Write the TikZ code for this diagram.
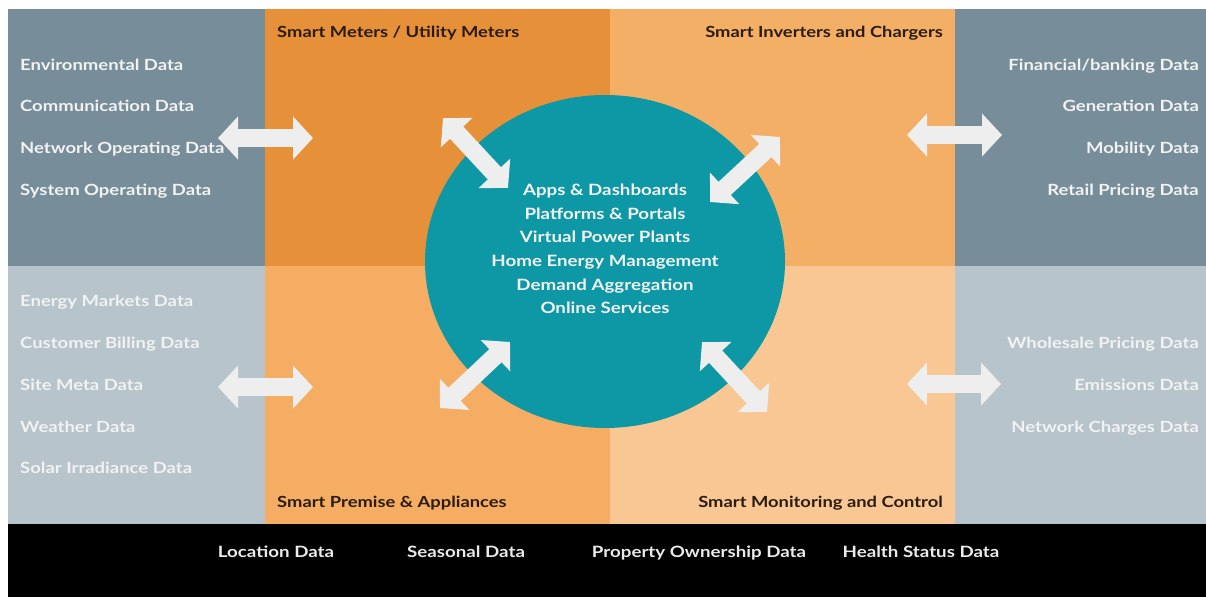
\documentclass[tikz,border=0pt]{standalone}
\usepackage{fontspec}
\setmainfont{Lato}
\newfontfamily\widefont[FakeStretch=1.2]{Lato}
\usetikzlibrary{arrows.meta,shapes.geometric}
\definecolor{slate}{HTML}{778D99}
\definecolor{mist}{HTML}{B8C4CB}
\definecolor{orangeA}{HTML}{E6913A}
\definecolor{orangeB}{HTML}{F4AF66}
\definecolor{orangeC}{HTML}{F4AD63}
\definecolor{peach}{HTML}{F8C794}
\definecolor{teal}{HTML}{0E97A4}
\definecolor{arrowgray}{HTML}{EEEEEE}
\definecolor{headink}{HTML}{2A1C10}
\definecolor{paleink}{HTML}{F2F2F2}
\begin{document}
\begin{tikzpicture}[x=1pt,y=-1pt,
  label/.style={font=\widefont\fontsize{15.4}{18}\selectfont\bfseries, text=paleink, inner sep=0pt, text height=11pt, text depth=0pt},
  lefttext/.style={label, anchor=west},
  righttext/.style={label, anchor=east},
  headtext/.style={font=\widefont\fontsize{15.3}{18}\selectfont\bfseries, text=headink, inner sep=0pt, text height=11pt, text depth=0pt},
  bandtext/.style={label, font=\widefont\fontsize{15.6}{18}\selectfont\bfseries, anchor=center, text=white!92!black},
  flow/.style={draw=arrowgray, line width=18pt, {Triangle[length=20pt,width=42pt]}-{Triangle[length=20pt,width=42pt]}}
]
\useasboundingbox (0,0) rectangle (1206,597);
\fill[white] (0,0) rectangle (1206,597);

% quadrants
\fill[slate]   (8,9)    rectangle (265,266);
\fill[mist]    (8,266)  rectangle (265,524);
\fill[orangeA] (265,9)  rectangle (610,266);
\fill[orangeB] (610,9)  rectangle (955,266);
\fill[orangeC] (265,266) rectangle (610,524);
\fill[peach]   (610,266) rectangle (955,524);
\fill[slate]   (955,9)  rectangle (1206,266);
\fill[mist]    (955,266) rectangle (1206,524);
\fill[black]   (8,524)  rectangle (1206,597);

% central hub
\node[ellipse, fill=teal, minimum width=360pt, minimum height=333pt, inner sep=0pt] (hub) at (605,261.5) {};
\node[font=\widefont\fontsize{15.6}{23.6}\selectfont\bfseries, text=paleink, align=center, inner sep=0pt] (services) at (605,249)
  {Apps \& Dashboards\\Platforms \& Portals\\Virtual Power Plants\\Home Energy Management\\Demand Aggregation\\Online Services};

% arrow end points
\coordinate (lta) at (218,138); \coordinate (ltb) at (313,138);
\coordinate (lba) at (218,387); \coordinate (lbb) at (313,387);
\coordinate (rta) at (907,135); \coordinate (rtb) at (1002,135);
\coordinate (rba) at (907,384); \coordinate (rbb) at (1001,384);
\coordinate (dtla) at (443,118); \coordinate (dtlb) at (508,188);
\coordinate (dtra) at (710,202); \coordinate (dtrb) at (780,137);
\coordinate (dbla) at (440,408); \coordinate (dblb) at (510,342);
\coordinate (dbra) at (702,342); \coordinate (dbrb) at (767,412);

\draw[flow] (lta) -- (ltb);
\draw[flow] (lba) -- (lbb);
\draw[flow] (rta) -- (rtb);
\draw[flow] (rba) -- (rbb);
\draw[flow] (dtla) -- (dtlb);
\draw[flow] (dtra) -- (dtrb);
\draw[flow] (dbla) -- (dblb);
\draw[flow] (dbra) -- (dbrb);

% quadrant headings
\node[headtext, anchor=west] (meters) at (277,32) {Smart Meters / Utility Meters};
\node[headtext, anchor=east] (inverters) at (943,32) {Smart Inverters and Chargers};
\node[headtext, anchor=west] (premise) at (277,502) {Smart Premise \& Appliances};
\node[headtext, anchor=east] (monitor) at (943,502) {Smart Monitoring and Control};

% left data lists
\node[lefttext] (l1) at (20,65)  {Environmental Data};
\node[lefttext] (l2) at (20,106) {Communication Data};
\node[lefttext] (l3) at (20,148) {Network Operating Data};
\node[lefttext] (l4) at (20,190) {System Operating Data};
\node[lefttext] (l5) at (20,301) {Energy Markets Data};
\node[lefttext] (l6) at (20,343) {Customer Billing Data};
\node[lefttext] (l7) at (20,385) {Site Meta Data};
\node[lefttext] (l8) at (20,427) {Weather Data};
\node[lefttext] (l9) at (20,468) {Solar Irradiance Data};

% right data lists
\node[righttext] (r1) at (1199,65)  {Financial/banking Data};
\node[righttext] (r2) at (1199,106) {Generation Data};
\node[righttext] (r3) at (1199,148) {Mobility Data};
\node[righttext] (r4) at (1199,190) {Retail Pricing Data};
\node[righttext] (r5) at (1199,343) {Wholesale Pricing Data};
\node[righttext] (r6) at (1199,385) {Emissions Data};
\node[righttext] (r7) at (1199,427) {Network Charges Data};

% bottom band
\node[bandtext] (b1) at (276,552) {Location Data};
\node[bandtext] (b2) at (466,552) {Seasonal Data};
\node[bandtext] (b3) at (699,552) {Property Ownership Data};
\node[bandtext] (b4) at (921,552) {Health Status Data};
\end{tikzpicture}
\end{document}
